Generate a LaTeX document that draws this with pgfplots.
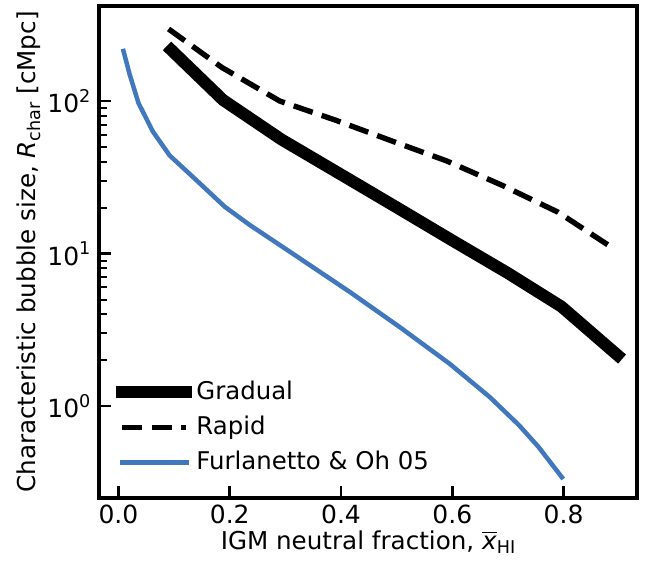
\documentclass[border=0pt]{standalone}
\usepackage{fontspec}
\setmainfont{DejaVu Sans}
\usepackage{pgfplots}
\pgfplotsset{compat=1.18}
\definecolor{fblue}{RGB}{65,119,189}
\newcommand\sps[1]{\raisebox{0.42em}{\fontsize{8.8}{10}\selectfont #1}}
\newcommand\sbs[1]{\raisebox{-0.2em}{\fontsize{8.8}{10}\selectfont #1}}
\begin{document}
\fontsize{12.3}{14}\selectfont
\begin{tikzpicture}
\begin{axis}[
  name=ax,
  scale only axis,
  width=269pt, height=246pt,
  ymode=log,
  xmin=-0.035, xmax=0.932,
  ymin=0.25, ymax=420,
  axis line style={line width=2pt},
  tick align=inside,
  xtick pos=left, ytick pos=left,
  xtick={0,0.2,0.4,0.6,0.8},
  xticklabel style={yshift=1pt,/pgf/number format/.cd,fixed,fixed zerofill,precision=1,assume math mode=true},
  ytick={1,10,100},
  yticklabels={10\sps{0},10\sps{1},10\sps{2}},
  major tick length=6pt, minor tick length=4pt,
  every major tick/.append style={line width=1.25pt, black},
  every minor tick/.append style={line width=1pt, black},
  tick label style={font=\fontsize{12.5}{14}\selectfont},
  label style={font=\fontsize{12.3}{14}\selectfont},
  xlabel style={yshift=5pt},
  ylabel style={yshift=-5pt},
  xlabel={IGM neutral fraction, $\overline{\hbox{\textit{x}}}$\sbs{HI}},
  ylabel={Characteristic bubble size, \textit{R}\sbs{char} [cMpc]},
  legend style={draw=none, fill=none, at={(0,0)}, anchor=south west,
    font=\fontsize{12.2}{14}\selectfont, row sep=2.5pt, inner xsep=0pt, inner ysep=0pt, xshift=8.5pt, yshift=10pt},
  legend cell align=left,
  legend image code/.code={\draw[#1] (0pt,0pt) -- (25pt,0pt); \path (0pt,0pt) -- (32pt,0pt);},
]
\addplot[black, line width=6pt, line cap=rect, line join=round] coordinates {
(0.095,216) (0.188,101.6) (0.293,56) (0.4,33) (0.5,20.1) (0.6,12.2) (0.70,7.45) (0.796,4.5) (0.897,2.16)};
\addlegendentry{Gradual}
\addplot[black, line width=2.7pt, dash pattern=on 10pt off 4.75pt] coordinates {
(0.09,297) (0.186,166) (0.29,100) (0.39,75) (0.49,55) (0.59,40.5) (0.69,28) (0.79,18.7) (0.888,10.9)};
\addlegendentry{Rapid}
\addplot[fblue, line width=2.25pt, line cap=rect, line join=round] coordinates {
(0.009,213) (0.02,150) (0.036,97) (0.062,63) (0.092,44) (0.143,29.6) (0.191,20.3) (0.236,15.4) (0.326,9.3) (0.416,5.6) (0.505,3.31) (0.595,1.9) (0.667,1.15) (0.72,0.75) (0.755,0.54) (0.797,0.342)};
\addlegendentry{Furlanetto \& Oh 05}
\end{axis}
\pgfresetboundingbox
\path[use as bounding box] ([shift={(-49.5pt,-31pt)}]ax.south west) rectangle ([shift={(8.5pt,3pt)}]ax.north east);
\end{tikzpicture}
\end{document}
